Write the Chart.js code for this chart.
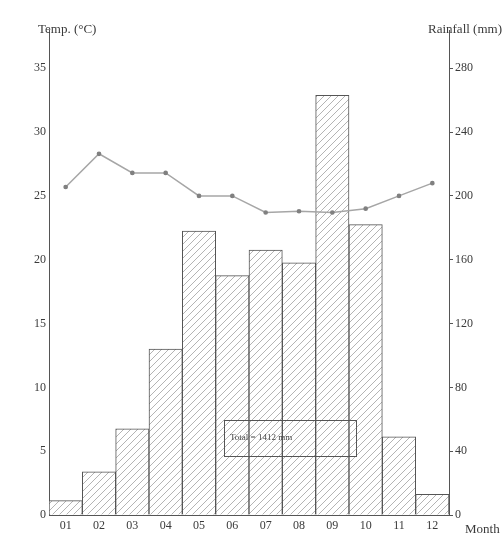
<!DOCTYPE html>
<html>
<head>
<meta charset="utf-8">
<script src="https://cdn.jsdelivr.net/npm/chart.js@4/dist/chart.umd.min.js"></script>
<style>
  html, body { margin: 0; padding: 0; background: #fff; }
  #wrap { width: 503px; height: 538px; }
</style>
</head>
<body>
<div id="wrap"><canvas id="c" width="503" height="538"></canvas></div>
<script>
// Monthly climate data
const months = ['01', '02', '03', '04', '05', '06', '07', '08', '09', '10', '11', '12'];
const rainfall = [9, 27, 54, 104, 178, 150, 166, 158, 263, 182, 49, 13];           // mm
const temperature = [25.7, 28.3, 26.8, 26.8, 25.0, 25.0, 23.7, 23.8, 23.7, 24.0, 25.0, 26.0]; // °C
const tempTickMax = 35;
const rainTickMax = 280;
const totalLabel = 'Total = 1412 mm';

const ink = '#3a3a3a';
const serif = '"Liberation Serif", "DejaVu Serif", serif';

// diagonal hatch fill for the rainfall bars
function hatchPattern() {
  const size = 7;
  const p = document.createElement('canvas');
  p.width = size; p.height = size;
  const g = p.getContext('2d');
  g.fillStyle = '#ffffff';
  g.fillRect(0, 0, size, size);
  g.strokeStyle = '#ababab';
  g.lineWidth = 0.9;
  g.beginPath();
  g.moveTo(0, size); g.lineTo(size, 0);
  g.moveTo(-1, 1); g.lineTo(1, -1);
  g.moveTo(size - 1, size + 1); g.lineTo(size + 1, size - 1);
  g.stroke();
  return document.getElementById('c').getContext('2d').createPattern(p, 'repeat');
}

// axis titles, the month caption and the total-rainfall box
const captions = {
  id: 'captions',
  afterDraw(chart) {
    const { ctx, chartArea: ca } = chart;
    ctx.save();
    ctx.fillStyle = ink;
    ctx.font = '13px ' + serif;
    ctx.textBaseline = 'middle';
    ctx.textAlign = 'left';
    ctx.fillText('Temp. (°C)', ca.left - 11, ca.top);
    ctx.textAlign = 'right';
    ctx.fillText('Rainfall (mm)', 502, ca.top);
    ctx.textAlign = 'left';
    ctx.fillText('Month', ca.right + 16, ca.bottom + 15);

    // total box
    const w = ca.right - ca.left, h = ca.bottom - ca.top;
    const bx = ca.left + w * 0.4375, by = ca.top + h * 0.804;
    const bw = w * 0.33, bh = h * 0.074;
    ctx.strokeStyle = '#555';
    ctx.lineWidth = 1;
    ctx.strokeRect(Math.round(bx) + 0.5, Math.round(by) + 0.5, Math.round(bw), Math.round(bh));
    ctx.font = '9px ' + serif;
    ctx.fillStyle = '#444';
    ctx.textAlign = 'left';
    ctx.fillText(totalLabel, bx + 6, by + bh / 2);
    ctx.restore();
  }
};

new Chart(document.getElementById('c'), {
  data: {
    labels: months,
    datasets: [
      {
        type: 'line',
        label: 'Temperature',
        data: temperature,
        yAxisID: 'y',
        borderColor: '#a6a6a6',
        borderWidth: 1.5,
        pointRadius: 1.6,
        pointBackgroundColor: '#808080',
        pointBorderColor: '#808080',
        tension: 0,
        order: 0
      },
      {
        type: 'bar',
        label: 'Rainfall',
        data: rainfall,
        yAxisID: 'y1',
        backgroundColor: hatchPattern(),
        borderColor: '#555',
        borderWidth: 1,
        categoryPercentage: 1.0,
        barPercentage: 1.0,
        order: 1
      }
    ]
  },
  options: {
    responsive: false,
    animation: false,
    layout: { padding: { top: 30, left: 0, right: 0, bottom: 0 } },
    plugins: { legend: { display: false }, tooltip: { enabled: false } },
    scales: {
      x: {
        offset: true,
        grid: { display: false, drawTicks: false },
        border: { display: true, color: '#555', width: 1 },
        ticks: { color: ink, font: { family: serif, size: 12 }, padding: 4, maxRotation: 0 },
        afterFit(s) { s.height = 23; }
      },
      y: {
        position: 'left',
        min: 0,
        max: 38,
        ticks: { stepSize: 5, color: ink, font: { family: serif, size: 12 }, padding: 3 },
        afterBuildTicks(s) { s.ticks = s.ticks.filter(t => t.value <= tempTickMax); },
        grid: { drawOnChartArea: false, drawTicks: false },
        border: { display: true, color: '#555', width: 1 },
        afterFit(s) { s.width = 49; }
      },
      y1: {
        position: 'right',
        min: 0,
        max: 304,
        ticks: { stepSize: 40, color: ink, font: { family: serif, size: 12 }, padding: 2 },
        afterBuildTicks(s) { s.ticks = s.ticks.filter(t => t.value <= rainTickMax); },
        grid: { drawOnChartArea: false, drawTicks: true, tickLength: 4, color: '#555' },
        border: { display: true, color: '#555', width: 1 },
        afterFit(s) { s.width = 54; }
      }
    }
  },
  plugins: [captions]
});
</script>
</body>
</html>
